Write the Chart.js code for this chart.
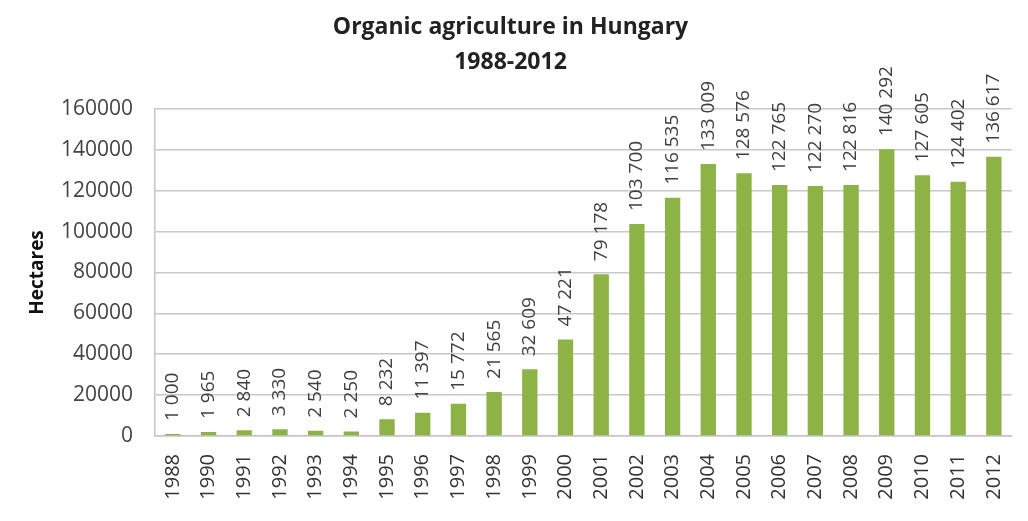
<!DOCTYPE html>
<html>
<head>
<meta charset="utf-8">
<script src="https://cdn.jsdelivr.net/npm/chart.js@4/dist/chart.umd.min.js"></script>
<style>
  html, body { margin: 0; padding: 0; background: #fff; }
  #wrap { width: 1028px; height: 521px; }
</style>
</head>
<body>
<div id="wrap"><canvas id="chart1"></canvas></div>
<script>
const years = ['1988', '1990', '1991', '1992', '1993', '1994', '1995', '1996', '1997', '1998', '1999', '2000',
               '2001', '2002', '2003', '2004', '2005', '2006', '2007', '2008', '2009', '2010', '2011', '2012'];
const hectares = [1000, 1965, 2840, 3330, 2540, 2250, 8232, 11397, 15772, 21565, 32609, 47221,
                  79178, 103700, 116535, 133009, 128576, 122765, 122270, 122816, 140292, 127605, 124402, 136617];
const yTicks = [0, 20000, 40000, 60000, 80000, 100000, 120000, 140000, 160000];

// 1 000 形式の数値
function fmt(v) {
    return String(v).replace(/\B(?=(\d{3})+(?!\d))/g, ' ');
}

// 棒の上に縦書きでラベルを描く
const barLabels = {
    id: 'barLabels',
    afterDatasetsDraw(chart) {
        const ctx = chart.ctx;
        const meta = chart.getDatasetMeta(0);
        ctx.save();
        ctx.fillStyle = '#404040';
        ctx.font = '19px "Open Sans"';
        ctx.textAlign = 'left';
        ctx.textBaseline = 'middle';
        meta.data.forEach((bar, i) => {
            ctx.save();
            ctx.translate(bar.x, bar.y - 13);
            ctx.rotate(-Math.PI / 2);
            ctx.fillText(fmt(hectares[i]), 0, 0);
            ctx.restore();
        });
        ctx.restore();
    }
};

const ctx = document.getElementById('chart1').getContext('2d');
new Chart(ctx, {
    type: 'bar',
    data: {
        labels: years,
        datasets: [{
            label: 'Hectares',
            data: hectares,
            backgroundColor: '#8db346',
            barPercentage: 0.43,
            categoryPercentage: 1
        }]
    },
    options: {
        responsive: true,
        maintainAspectRatio: false,
        animation: false,
        layout: { padding: { left: 0, right: 7, top: 0, bottom: 0 } },
        plugins: {
            legend: { display: false },
            tooltip: { enabled: false },
            title: {
                display: true,
                text: ['Organic agriculture in Hungary', '1988-2012'],
                color: '#222',
                font: { family: 'Open Sans', size: 23, weight: 'bold', lineHeight: 1.52 },
                padding: { top: 10, bottom: 29 }
            }
        },
        scales: {
            x: {
                grid: { display: false },
                border: { color: '#c4c4c4', width: 1.5 },
                ticks: {
                    color: '#333',
                    font: { family: 'Open Sans', size: 20 },
                    maxRotation: 90,
                    minRotation: 90,
                    padding: 10,
                    autoSkip: false
                },
                afterFit(scale) { scale.height = 85; }
            },
            y: {
                min: 0,
                max: 160000,
                afterBuildTicks(scale) { scale.ticks = yTicks.map(v => ({ value: v })); },
                grid: { color: '#c8c8c8', lineWidth: 1.5, drawTicks: false },
                border: { color: '#c4c4c4', width: 1.5 },
                ticks: {
                    color: '#444',
                    font: { family: 'Open Sans', size: 21 },
                    padding: 22,
                    callback: v => String(v)
                },
                title: {
                    display: true,
                    text: 'Hectares',
                    color: '#111',
                    font: { family: 'Open Sans', size: 19, weight: 'bold' },
                    padding: { top: 26, bottom: 0 }
                },
                afterFit(scale) { scale.width = 155; }
            }
        }
    },
    plugins: [barLabels]
});
</script>
</body>
</html>
